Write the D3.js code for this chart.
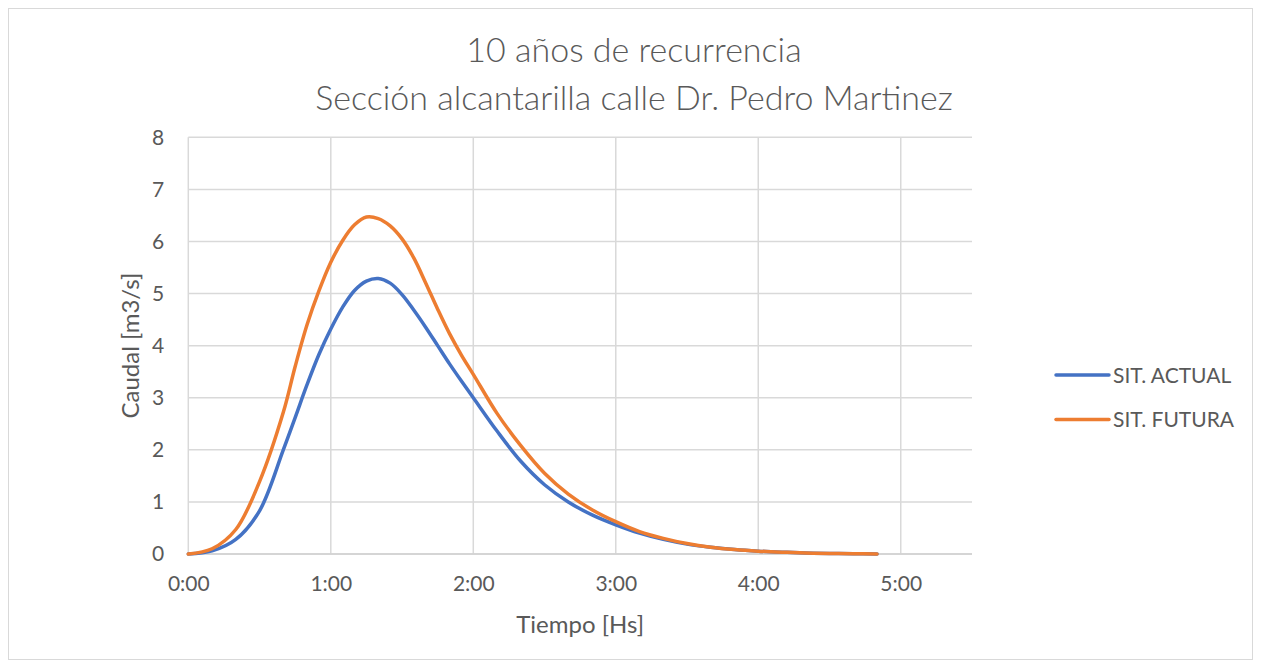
<!DOCTYPE html>
<html>
<head>
<meta charset="utf-8">
<script src="https://cdn.jsdelivr.net/npm/d3@7"></script>
<style>
	body { margin: 0; background: #fff; }
	text { font-family: Lato, "Open Sans", sans-serif; fill: #595959; }
</style>
</head>
<body>
<div id="chart-area"></div>
<script>
// SVG Size
let width = 1261,
	height = 668;

// time in minutes since start of the storm (finer steps around the peak)
let minutes = [0, 10, 20, 30, 40, 45, 50, 55, 60, 65, 70, 75, 80, 85, 90, 95, 100, 105, 110, 115, 120,
	130, 140, 150, 160, 170, 180, 190, 200, 210, 220, 230, 240, 250, 260, 270, 280, 290];

// caudal [m3/s]
let sitActual = [0, 0.06, 0.28, 0.83, 2.0, 2.62, 3.25, 3.83, 4.32, 4.74, 5.06, 5.24, 5.29, 5.2, 4.98, 4.68, 4.35, 4.0, 3.65, 3.32, 3.0,
	2.36, 1.78, 1.33, 1.0, 0.75, 0.56, 0.4, 0.28, 0.19, 0.13, 0.085, 0.055, 0.035, 0.02, 0.01, 0.005, 0];
let sitFutura = [0, 0.1, 0.47, 1.39, 2.72, 3.6, 4.4, 5.05, 5.6, 6.02, 6.32, 6.47, 6.44, 6.3, 6.05, 5.68, 5.2, 4.7, 4.23, 3.82, 3.45,
	2.7, 2.08, 1.55, 1.15, 0.85, 0.62, 0.43, 0.3, 0.2, 0.13, 0.085, 0.055, 0.035, 0.02, 0.01, 0.005, 0];

let seriesNames = ["SIT. ACTUAL", "SIT. FUTURA"];
let seriesColors = ["#4472C4", "#ED7D31"];

let xTicks = [0, 60, 120, 180, 240, 300];
let yTicks = [0, 1, 2, 3, 4, 5, 6, 7, 8];

let titleLines = ["10 años de recurrencia", "Sección alcantarilla calle Dr. Pedro Martinez"];

drawChart();

function drawChart() {
	let svg = d3.select("#chart-area").append("svg")
		.attr("width", width)
		.attr("height", height);

	// chart border
	svg.append("rect")
		.attr("x", 8.5).attr("y", 8.5)
		.attr("width", 1244).attr("height", 651)
		.attr("fill", "#fff")
		.attr("stroke", "#d9d9d9");

	let plot = { left: 188.3, right: 972, top: 137.3, bottom: 554 };

	let XScale = d3.scaleLinear()
		.domain([0, 330])
		.range([plot.left, plot.right]);
	let YScale = d3.scaleLinear()
		.domain([0, 8])
		.range([plot.bottom, plot.top]);

	// grid
	svg.append("g").selectAll("line").data(yTicks).enter()
		.append("line")
		.attr("x1", plot.left).attr("x2", plot.right)
		.attr("y1", d => YScale(d)).attr("y2", d => YScale(d))
		.attr("stroke", "#d9d9d9")
		.attr("stroke-width", 1.5);

	svg.append("g").selectAll("line").data(xTicks).enter()
		.append("line")
		.attr("x1", d => XScale(d)).attr("x2", d => XScale(d))
		.attr("y1", plot.top).attr("y2", plot.bottom)
		.attr("stroke", "#d9d9d9")
		.attr("stroke-width", 1.5);

	// axes (labels only)
	let xAxis = d3.axisBottom(XScale)
		.tickValues(xTicks)
		.tickSize(0)
		.tickPadding(22)
		.tickFormat(d => (d / 60) + ":00");
	let yAxis = d3.axisLeft(YScale)
		.tickValues(yTicks)
		.tickSize(0)
		.tickPadding(24);

	let gx = svg.append("g")
		.attr("class", "axis x-axis")
		.attr("transform", "translate(0," + plot.bottom + ")")
		.call(xAxis);
	let gy = svg.append("g")
		.attr("class", "axis y-axis")
		.attr("transform", "translate(" + plot.left + ",0)")
		.call(yAxis);
	[gx, gy].forEach(g => {
		g.select(".domain").remove();
		g.selectAll("text")
			.style("font-family", "Lato, sans-serif")
			.style("font-size", "21px")
			.attr("fill", "#595959");
	});

	// bottom axis line
	svg.append("line")
		.attr("x1", plot.left).attr("x2", plot.right)
		.attr("y1", plot.bottom).attr("y2", plot.bottom)
		.attr("stroke", "#d0d0d0")
		.attr("stroke-width", 1.5);

	// series
	let line = d3.line()
		.x(d => XScale(d[0]))
		.y(d => YScale(d[1]))
		.curve(d3.curveCatmullRom.alpha(0.5));

	let series = [sitActual, sitFutura];
	series.forEach((vals, i) => {
		svg.append("path")
			.datum(minutes.map((m, j) => [m, vals[j]]))
			.attr("d", line)
			.attr("fill", "none")
			.attr("stroke", seriesColors[i])
			.attr("stroke-width", 3.5)
			.attr("stroke-linecap", "round")
			.attr("stroke-linejoin", "round");
	});

	// title
	svg.append("g").selectAll("text").data(titleLines).enter()
		.append("text")
		.attr("x", 634)
		.attr("y", (d, i) => 62 + i * 48)
		.attr("text-anchor", "middle")
		.style("font-size", "34px")
		.style("font-weight", 300)
		.text(d => d);

	// axis titles
	svg.append("text")
		.attr("x", XScale(165))
		.attr("y", 633)
		.attr("text-anchor", "middle")
		.style("font-size", "24px")
		.text("Tiempo [Hs]");

	svg.append("text")
		.attr("transform", "translate(139," + YScale(4) + ") rotate(-90)")
		.attr("text-anchor", "middle")
		.style("font-size", "24px")
		.text("Caudal [m3/s]");

	// legend
	let legend = svg.append("g").selectAll("g").data(seriesNames).enter()
		.append("g")
		.attr("transform", (d, i) => "translate(1056," + (375 + i * 44.5) + ")");
	legend.append("line")
		.attr("x1", 0).attr("x2", 53)
		.attr("stroke", (d, i) => seriesColors[i])
		.attr("stroke-width", 3.5)
		.attr("stroke-linecap", "round");
	legend.append("text")
		.attr("x", 57)
		.attr("dy", "0.36em")
		.style("font-size", "21px")
		.text(d => d);
}
</script>
</body>
</html>
